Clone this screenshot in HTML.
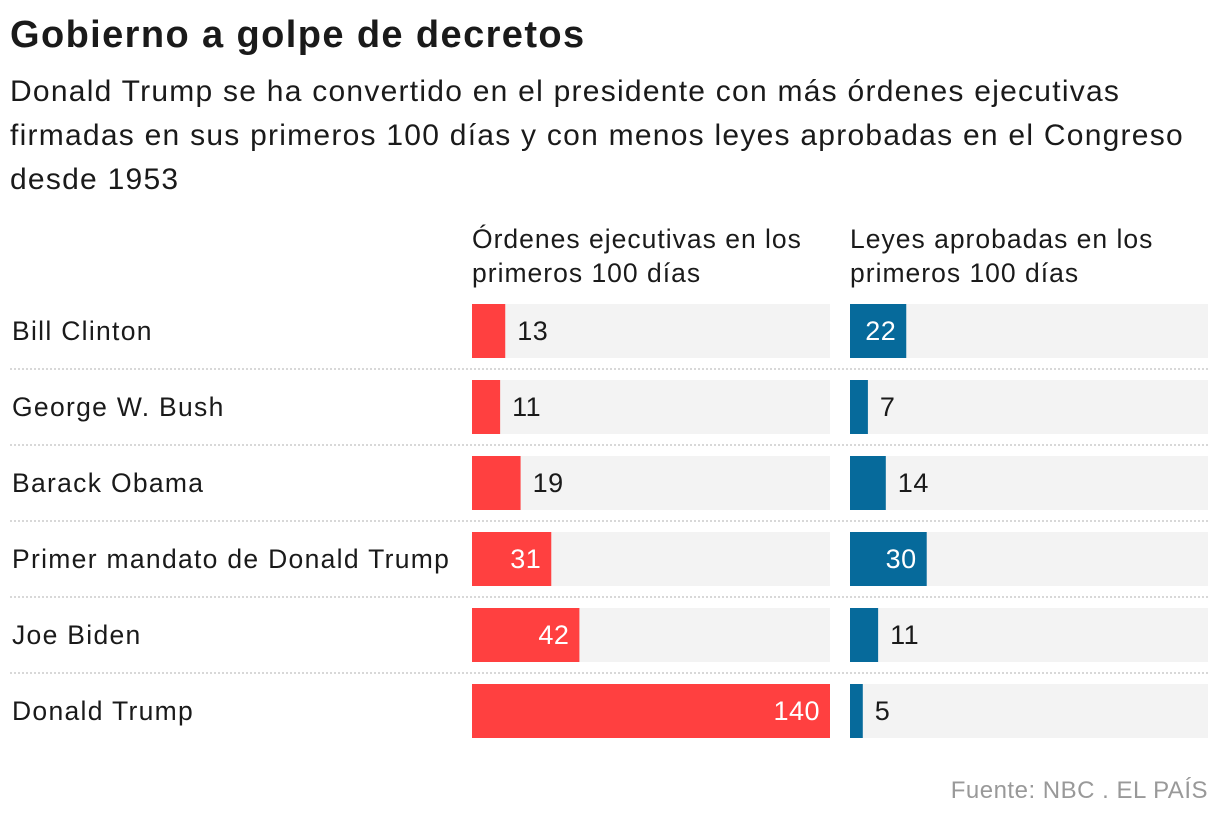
<!DOCTYPE html>
<html><head><meta charset="utf-8">
<style>
body{margin:0;width:1220px;height:822px;background:#fff;font-family:"Liberation Sans",sans-serif;color:#1a1a1a;position:relative;overflow:hidden}
#title{position:absolute;left:10px;top:14px;font-size:38px;font-weight:bold;margin:0;letter-spacing:1.4px}
#sub{position:absolute;left:10px;top:70px;font-size:30px;line-height:44px;width:1210px;margin:0;letter-spacing:1.25px;white-space:nowrap}
.hdr{position:absolute;top:222px;font-size:26.5px;line-height:34px;letter-spacing:1px}
#src{position:absolute;right:12px;top:777px;font-size:24px;color:#999;letter-spacing:0.5px}
</style></head><body>
<h1 id="title">Gobierno a golpe de decretos</h1>
<p id="sub">Donald Trump se ha convertido en el presidente con más órdenes ejecutivas<br>firmadas en sus primeros 100 días y con menos leyes aprobadas en el Congreso<br>desde 1953</p>
<div class="hdr" style="left:472px">Órdenes ejecutivas en los<br>primeros 100 días</div>
<div class="hdr" style="left:850px">Leyes aprobadas en los<br>primeros 100 días</div>
<svg id="chart" width="1220" height="822" style="position:absolute;left:0;top:0"></svg>
<div id="src">Fuente: NBC . EL PAÍS</div>
<script>
const presidents=["Bill Clinton","George W. Bush","Barack Obama","Primer mandato de Donald Trump","Joe Biden","Donald Trump"];
const orders=[13,11,19,31,42,140];
const laws=[22,7,14,30,11,5];
const maxVal=140;
const svg=document.getElementById('chart');
const NS="http://www.w3.org/2000/svg";
const W=358,top0=304,step=76,bh=54;
const x=v=>v/maxVal*W;
function mk(t,a){const e=document.createElementNS(NS,t);for(const k in a)e.setAttribute(k,a[k]);svg.appendChild(e);return e;}
presidents.forEach((p,i)=>{
  const y=top0+i*step;
  const lab=mk('text',{x:12,y:y+bh/2+9,'font-size':26.5,fill:'#1a1a1a','letter-spacing':1.3});
  lab.textContent=p;
  
  
  if(i<presidents.length-1){
    const ln=mk('line',{x1:10,x2:1210,y1:y+bh+11,y2:y+bh+11,stroke:'#ccc','stroke-width':1.5,'stroke-dasharray':'2,2'});
    
    
  }
  [[472,orders[i],'#ff4040','orders'],[850,laws[i],'#066a9b','laws']].forEach(([x0,v,c,nm])=>{
    const bg=mk('rect',{x:x0,y:y,width:W,height:bh,fill:'#f3f3f3'});
    
    
    const w=x(v);
    const b=mk('rect',{x:x0,y:y,width:w,height:bh,fill:c});
    
    
    const inside=v>=20;
    const t=mk('text',{x:inside?x0+w-10:x0+w+12,y:y+bh/2+9,'font-size':27,fill:inside?'#fff':'#1a1a1a','text-anchor':inside?'end':'start','letter-spacing':0.5});
    t.textContent=v;
    
    
  });
});
</script>
</body></html>
